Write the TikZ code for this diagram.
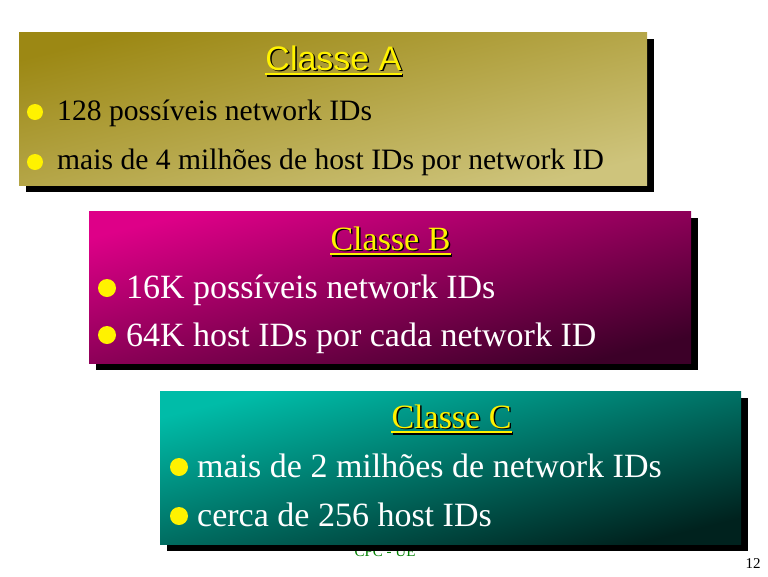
\documentclass[tikz,border=0pt]{standalone}
\usepackage{fontspec}
\setmainfont{Liberation Serif}
\newfontfamily\arialfont{Liberation Sans}
\usepackage{tikz}
\definecolor{goldtop}{RGB}{156,136,20}
\definecolor{goldbottom}{RGB}{206,196,124}
\definecolor{magtop}{RGB}{222,0,136}
\definecolor{magbottom}{RGB}{60,0,40}
\definecolor{tealtop}{RGB}{0,188,168}
\definecolor{tealbottom}{RGB}{0,34,30}
\definecolor{footgreen}{RGB}{0,128,0}
\usetikzlibrary{positioning, shadows, calc}
\tikzstyle{panel} = [rectangle, inner sep=0pt, drop shadow={shadow xshift=7pt, shadow yshift=-7pt, opacity=1, fill=black}]
\tikzstyle{title} = [inner sep=0pt, anchor=base, text=yellow, font=\fontsize{34}{40}\selectfont]
\tikzstyle{titleshadow} = [title, text=black]
\tikzstyle{uline} = [yellow, line width=2.5pt]
\tikzstyle{ulineshadow} = [black, line width=2.5pt]
\tikzstyle{bullet} = [circle, fill=yellow, inner sep=0pt, minimum size=18pt]
\tikzstyle{item} = [inner sep=0pt, anchor=base west, font=\fontsize{34}{40}\selectfont, text=white]

\begin{document}
\begin{tikzpicture}[x=1pt, y=-1pt]
    \useasboundingbox (0,0) rectangle (768,576);
    % Footer (partly hidden behind the last panel)
    \node [inner sep=0pt, anchor=base, text=footgreen, font=\fontsize{15}{18}\selectfont] (footer) at (385,556) {CPC - UE};
    \node [inner sep=0pt, anchor=base, font=\fontsize{15}{18}\selectfont] (pagenum) at (753,568) {12};

    % Place the panels
    \node [panel, top color=goldtop, bottom color=goldbottom, shading angle=14, minimum width=628pt, minimum height=153pt] (panelA) at (333,108.5) {};
    \node [panel, top color=magtop, bottom color=magbottom, shading angle=14, minimum width=602pt, minimum height=152pt] (panelB) at (390,287) {};
    \node [panel, top color=tealtop, bottom color=tealbottom, shading angle=14, minimum width=581pt, minimum height=153pt] (panelC) at (450.5,467.5) {};

    % Classe A
    \node [titleshadow, font=\arialfont\fontsize{34}{40}\selectfont] (titleAs) at (335,71.5) {Classe A};
    \node [title, font=\arialfont\fontsize{34}{40}\selectfont] (titleA) at (333.5,70) {Classe A};
    \draw [ulineshadow] ($(titleA.base west)+(1.5,5.5)$) -- ($(titleA.base east)+(1.5,5.5)$);
    \draw [uline] ($(titleA.base west)+(0,4)$) -- ($(titleA.base east)+(0,4)$);
    \node [bullet, minimum size=16pt] (bulletA1) at (35,112) {};
    \node [bullet, minimum size=16pt] (bulletA2) at (35,162) {};
    \node [item, text=black, font=\fontsize{29.6}{36}\selectfont] (itemA1) at (57,120) {128 possíveis network IDs};
    \node [item, text=black, font=\fontsize{29.6}{36}\selectfont] (itemA2) at (57,169) {mais de 4 milhões de host IDs por network ID};

    % Classe B
    \node [titleshadow] (titleBs) at (392,251.5) {Classe B};
    \node [title] (titleB) at (390.5,250) {Classe B};
    \draw [ulineshadow] ($(titleB.base west)+(1.5,5.5)$) -- ($(titleB.base east)+(1.5,5.5)$);
    \draw [uline] ($(titleB.base west)+(0,4)$) -- ($(titleB.base east)+(0,4)$);
    \node [bullet] (bulletB1) at (107,288) {};
    \node [bullet] (bulletB2) at (107,335) {};
    \node [item] (itemB1) at (126,298) {16K possíveis network IDs};
    \node [item] (itemB2) at (126,346) {64K host IDs por cada network ID};

    % Classe C
    \node [titleshadow] (titleCs) at (453,429.5) {Classe C};
    \node [title] (titleC) at (451.5,428) {Classe C};
    \draw [ulineshadow] ($(titleC.base west)+(1.5,5.5)$) -- ($(titleC.base east)+(1.5,5.5)$);
    \draw [uline] ($(titleC.base west)+(0,4)$) -- ($(titleC.base east)+(0,4)$);
    \node [bullet] (bulletC1) at (179,467) {};
    \node [bullet] (bulletC2) at (179,516) {};
    \node [item] (itemC1) at (197,477) {mais de 2 milhões de network IDs};
    \node [item] (itemC2) at (197,526) {cerca de 256 host IDs};
\end{tikzpicture}
\end{document}
